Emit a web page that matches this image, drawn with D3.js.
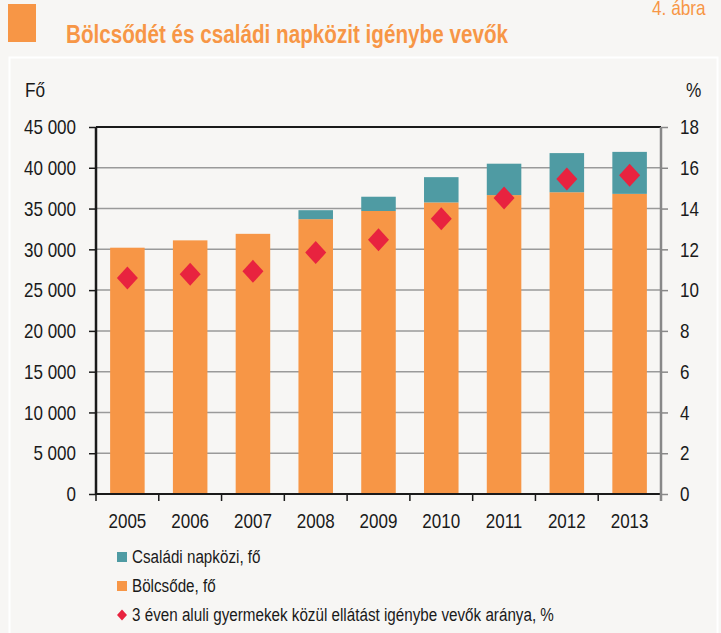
<!DOCTYPE html>
<html>
<head>
<meta charset="utf-8">
<script src="https://cdn.jsdelivr.net/npm/d3@7"></script>
<style>
  body { margin: 0; background: #f7f6f4; }
  svg { display: block; font-family: "Liberation Sans", Arial, sans-serif; }
</style>
</head>
<body>
<svg id="chart" width="721" height="633"></svg>
<script>
// data
const years = ["2005", "2006", "2007", "2008", "2009", "2010", "2011", "2012", "2013"];
const bolcsode = [30200, 31100, 31900, 33700, 34700, 35750, 36650, 37000, 36800];
const csaladi = [0, 0, 0, 1100, 1750, 3100, 3850, 4800, 5150];
const arany = [10.6, 10.78, 10.92, 11.84, 12.47, 13.5, 14.52, 15.45, 15.63];
const leftTicks = [0, 5000, 10000, 15000, 20000, 25000, 30000, 35000, 40000, 45000];
const rightTicks = [0, 2, 4, 6, 8, 10, 12, 14, 16, 18];

const orange = "#f79646", teal = "#4f9ba3", red = "#e8233f", ink = "#1a1a1a";

const svg = d3.select("#chart");
const m = { left: 96, right: 661, top: 127, bottom: 494 };

// squeeze text horizontally (the original uses a narrow font)
function narrow(sel, k) {
  sel.each(function () {
    const w = this.getComputedTextLength();
    d3.select(this).attr("textLength", w * k).attr("lengthAdjust", "spacingAndGlyphs");
  });
}

// header
svg.append("rect").attr("x", 8).attr("y", 4).attr("width", 28).attr("height", 38).attr("fill", orange);
svg.append("text").attr("x", 66).attr("y", 43)
  .attr("font-size", 25).attr("font-weight", "bold").attr("fill", orange)
  .attr("textLength", 442).attr("lengthAdjust", "spacingAndGlyphs")
  .text("Bölcsődét és családi napközit igénybe vevők");
svg.append("text").attr("x", 652).attr("y", 15)
  .attr("font-size", 21).attr("fill", orange).text("4. ábra")
  .call(narrow, 0.82);

// panel frame
svg.append("rect").attr("x", 9.5).attr("y", 57.5).attr("width", 708).attr("height", 590)
  .attr("fill", "none").attr("stroke", "#ffffff").attr("stroke-width", 2);

const x = d3.scaleBand().domain(years).range([m.left, m.right]).paddingInner(0.45).paddingOuter(0.225);
const yL = d3.scaleLinear().domain([0, 45000]).range([m.bottom, m.top]);
const yR = d3.scaleLinear().domain([0, 18]).range([m.bottom, m.top]);

const fmt = d => d3.format(",")(d).replace(/,/g, " ");

// gridlines
svg.append("g").selectAll("line").data(leftTicks.slice(1, -1)).join("line")
  .attr("x1", m.left).attr("x2", m.right)
  .attr("y1", d => yL(d)).attr("y2", d => yL(d))
  .attr("stroke", "#9a9a9a").attr("stroke-width", 1.5);

// bars
const bars = svg.append("g");
bars.selectAll("rect.b").data(years).join("rect").attr("class", "b")
  .attr("x", d => x(d)).attr("width", x.bandwidth())
  .attr("y", (d, i) => yL(bolcsode[i])).attr("height", (d, i) => yL(0) - yL(bolcsode[i]))
  .attr("fill", orange);
bars.selectAll("rect.c").data(years).join("rect").attr("class", "c")
  .attr("x", d => x(d)).attr("width", x.bandwidth())
  .attr("y", (d, i) => yL(bolcsode[i] + csaladi[i]))
  .attr("height", (d, i) => yL(bolcsode[i]) - yL(bolcsode[i] + csaladi[i]))
  .attr("fill", teal);

// diamonds
const diamond = "M0,-11.5L10.5,0L0,11.5L-10.5,0Z";
svg.append("g").selectAll("path").data(years).join("path")
  .attr("d", diamond)
  .attr("transform", (d, i) => `translate(${x(d) + x.bandwidth() / 2},${yR(arany[i])})`)
  .attr("fill", red);

// axes
const gl = svg.append("g").attr("transform", `translate(${m.left},0)`)
  .call(d3.axisLeft(yL).tickValues(leftTicks).tickFormat(fmt).tickSize(7).tickPadding(13));
gl.select(".domain").remove();
gl.selectAll("line").attr("stroke", ink).attr("stroke-width", 1.5);
gl.selectAll("text").attr("font-size", 21).attr("fill", ink)
  .style("font-family", "'Liberation Sans', Arial, sans-serif").call(narrow, 0.81);

const gr = svg.append("g").attr("transform", `translate(${m.right},0)`)
  .call(d3.axisRight(yR).tickValues(rightTicks).tickSize(7).tickPadding(12));
gr.select(".domain").remove();
gr.selectAll("line").attr("stroke", "#888").attr("stroke-width", 1.5);
gr.selectAll("text").attr("font-size", 21).attr("fill", ink)
  .style("font-family", "'Liberation Sans', Arial, sans-serif").call(narrow, 0.81);

// x axis ticks at band boundaries
const step = x.step();
const bounds = d3.range(years.length + 1).map(i => m.left + i * step);
svg.append("g").selectAll("line").data(bounds).join("line")
  .attr("x1", d => d).attr("x2", d => d).attr("y1", m.bottom).attr("y2", m.bottom + 7)
  .attr("stroke", ink).attr("stroke-width", 1.5);
svg.append("g").selectAll("text").data(years).join("text")
  .attr("x", d => x(d) + x.bandwidth() / 2).attr("y", 528)
  .attr("text-anchor", "middle").attr("font-size", 21).attr("fill", ink).text(d => d)
  .call(narrow, 0.81);

// frame
svg.append("line").attr("x1", m.left).attr("x2", m.right).attr("y1", m.top).attr("y2", m.top).attr("stroke", ink).attr("stroke-width", 2);
svg.append("line").attr("x1", m.left).attr("x2", m.right).attr("y1", m.bottom).attr("y2", m.bottom).attr("stroke", ink).attr("stroke-width", 2);
svg.append("line").attr("x1", m.left).attr("x2", m.left).attr("y1", m.top).attr("y2", m.bottom).attr("stroke", ink).attr("stroke-width", 2.5);
svg.append("line").attr("x1", m.right).attr("x2", m.right).attr("y1", m.top).attr("y2", m.bottom + 7).attr("stroke", "#888").attr("stroke-width", 2.5);

// unit labels
svg.append("text").attr("x", 25).attr("y", 97).attr("font-size", 21).attr("fill", ink).text("Fő").call(narrow, 0.82);
svg.append("text").attr("x", 686).attr("y", 97).attr("font-size", 21).attr("fill", ink).text("%").call(narrow, 0.82);

// legend
const legend = [
  { label: "Családi napközi, fő", color: teal, shape: "square" },
  { label: "Bölcsőde, fő", color: orange, shape: "square" },
  { label: "3 éven aluli gyermekek közül ellátást igénybe vevők aránya, %", color: red, shape: "diamond" }
];
const lg = svg.append("g").selectAll("g").data(legend).join("g")
  .attr("transform", (d, i) => `translate(117,${557 + i * 29})`);
lg.filter(d => d.shape === "square").append("rect")
  .attr("x", 0).attr("y", -5).attr("width", 10).attr("height", 10).attr("fill", d => d.color);
lg.filter(d => d.shape === "diamond").append("path")
  .attr("d", "M5,-5.5L10,0L5,5.5L0,0Z").attr("fill", d => d.color);
lg.append("text").attr("x", 15).attr("y", 6).attr("font-size", 18).attr("fill", ink).text(d => d.label)
  .call(narrow, 0.845);
</script>
</body>
</html>
